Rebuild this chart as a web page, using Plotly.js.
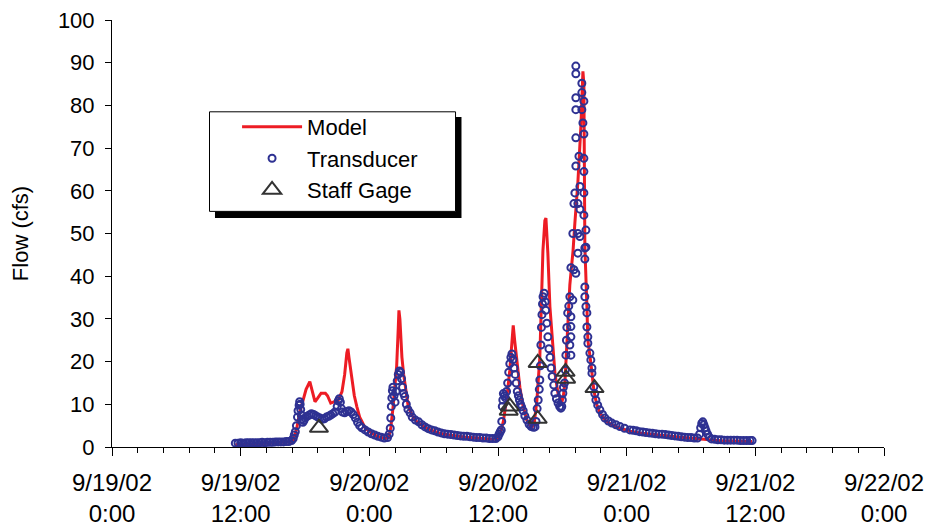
<!DOCTYPE html>
<html>
<head>
<meta charset="utf-8">
<script src="https://cdn.plot.ly/plotly-3.0.1.min.js"></script>
<style>html,body{margin:0;padding:0;background:#fff;}#chart{width:925px;height:529px;}</style>
</head>
<body>
<div id="chart"></div>
<script>
// Hours since 9/19/02 0:00
var tickHours = [0, 12, 24, 36, 48, 60, 72];
var tickLabels = ["9/19/02<br>0:00", "9/19/02<br>12:00", "9/20/02<br>0:00", "9/20/02<br>12:00",
                  "9/21/02<br>0:00", "9/21/02<br>12:00", "9/22/02<br>0:00"];

var modelHours = [11.5, 12, 13, 14, 15, 16, 16.6, 16.9, 17.2, 17.5,
  17.8, 18.1, 18.45, 18.7, 18.93, 19.2, 19.5, 19.9, 20.1, 20.4,
  20.8, 21.1, 21.45, 21.7, 21.9, 22.0, 22.1, 22.38, 22.6, 22.84,
  23.1, 23.31, 23.6, 24.0, 24.5, 25.0, 25.5, 25.8, 26.0, 26.2,
  26.4, 26.55, 26.7, 26.76, 26.85, 26.95, 27.04, 27.2, 27.4, 27.6,
  27.8, 28.0, 28.4, 28.8, 29.2, 29.6, 30.0, 30.5, 31.0, 31.5,
  32.0, 32.5, 33.0, 33.5, 34.0, 34.5, 35.0, 35.5, 35.9, 36.2,
  36.5, 36.83, 37.1, 37.3, 37.42, 37.55, 37.76, 38.04, 38.3, 38.69,
  39.0, 39.16, 39.4, 39.63, 39.9, 40.19, 40.37, 40.47, 40.55, 40.65,
  40.84, 41.1, 41.31, 41.6, 41.77, 41.96, 42.1, 42.24, 42.42, 42.52,
  42.7, 42.85, 43.0, 43.17, 43.45, 43.73, 43.92, 44.01, 44.05, 44.1,
  44.29, 44.38, 44.66, 44.94, 45.2, 45.5, 46.0, 46.6, 47.4, 48.3,
  49.2, 50.2, 51.1, 52.0, 53.0, 53.9, 54.8, 55.4, 56.0, 57.0,
  58.0, 59.0, 59.7];
var modelFlow = [0.5, 0.6, 0.7, 0.8, 0.9, 1.0, 1.2, 1.6, 4.0, 8.0,
  11.0, 13.5, 15.3, 13.0, 10.6, 11.5, 12.6, 12.6, 12.0, 10.3,
  10.6, 11.0, 13.0, 17.0, 22.0, 23.0, 21.0, 16.5, 12.0, 9.4,
  7.0, 6.0, 4.5, 3.6, 2.8, 2.3, 2.0, 2.2, 4.5, 9.0,
  14.0, 19.0, 28.0, 32.0, 30.0, 25.0, 21.0, 17.0, 13.0, 10.0,
  8.5, 7.3, 6.0, 5.2, 4.6, 4.1, 3.7, 3.3, 3.0, 2.8,
  2.6, 2.4, 2.3, 2.2, 2.1, 2.0, 1.9, 1.8, 1.9, 3.0,
  6.0, 11.7, 18.0, 25.0, 28.5, 25.0, 20.0, 14.0, 10.0, 6.3,
  5.0, 4.5, 6.0, 11.0, 21.0, 46.0, 53.0, 53.6, 50.0, 45.4,
  32.9, 24.3, 17.3, 12.5, 11.8, 10.5, 12.0, 15.0, 25.0, 30.5,
  38.0, 42.0, 46.0, 52.5, 62.0, 75.0, 88.0, 85.0, 65.0, 47.0,
  33.0, 25.0, 19.7, 13.3, 10.0, 8.0, 6.3, 5.2, 4.4, 3.7,
  3.3, 3.0, 2.8, 2.6, 2.3, 2.1, 1.9, 1.6, 1.5, 1.4,
  1.4, 1.3, 1.3];

var transHours = [11.5, 11.75, 12.0, 12.25, 12.5, 12.75, 13.0, 13.25, 13.5, 13.75,
  14.0, 14.25, 14.5, 14.75, 15.0, 15.25, 15.5, 15.75, 16.0, 16.25,
  16.5, 16.75, 16.9, 17.0, 17.1, 17.2, 17.3, 17.35, 17.45, 17.5,
  17.55, 17.6, 17.65, 17.7, 17.8, 17.9, 18.0, 18.2, 18.4, 18.6,
  18.8, 19.0, 19.2, 19.4, 19.6, 19.8, 20.0, 20.2, 20.4, 20.6,
  20.8, 21.0, 21.1, 21.2, 21.3, 21.4, 21.5, 21.7, 21.9, 22.1,
  22.3, 22.5, 22.7, 22.9, 23.1, 23.3, 23.6, 23.9, 24.2, 24.5,
  24.8, 25.1, 25.4, 25.7, 25.85, 25.95, 26.0, 26.05, 26.1, 26.15,
  26.2, 26.3, 26.4, 26.5, 26.6, 26.7, 26.8, 26.9, 27.0, 27.1,
  27.2, 27.3, 27.45, 27.6, 27.8, 28.0, 28.3, 28.6, 28.9, 29.2,
  29.5, 29.8, 30.1, 30.4, 30.7, 31.0, 31.3, 31.6, 31.9, 32.2,
  32.5, 32.8, 33.1, 33.4, 33.7, 34.0, 34.3, 34.6, 34.9, 35.2,
  35.5, 35.8, 36.0, 36.1, 36.2, 36.3, 36.35, 36.4, 36.45, 36.5,
  36.6, 36.7, 36.8, 36.9, 37.0, 37.1, 37.2, 37.3, 37.4, 37.5,
  37.6, 37.7, 37.8, 37.9, 38.0, 38.1, 38.2, 38.35, 38.5, 38.7,
  38.9, 39.1, 39.3, 39.45, 39.55, 39.65, 39.75, 39.85, 39.9, 39.95,
  40.0, 40.05, 40.1, 40.15, 40.2, 40.3, 40.4, 40.45, 40.55, 40.65,
  40.75, 40.85, 40.95, 41.05, 41.2, 41.3, 41.45, 41.6, 41.75, 41.87,
  41.95, 42.0, 42.05, 42.1, 42.2, 42.28, 42.33, 42.38, 42.42, 42.5,
  42.6, 42.7, 42.7, 42.8, 42.8, 42.8, 42.8, 42.8, 42.98, 42.98,
  43.08, 43.08, 43.17, 43.26, 43.26, 43.26, 43.26, 43.26, 43.26, 43.26,
  43.45, 43.45, 43.45, 43.55, 43.64, 43.64, 43.64, 43.82, 43.82, 43.82,
  43.92, 44.01, 44.01, 44.01, 44.01, 44.01, 44.01, 44.1, 44.1, 44.1,
  44.1, 44.2, 44.2, 44.2, 44.29, 44.29, 44.38, 44.38, 44.57, 44.66,
  44.76, 44.76, 44.94, 45.03, 45.13, 45.3, 45.5, 45.75, 45.97, 46.3,
  46.62, 47.0, 47.37, 47.8, 48.3, 48.6, 48.9, 49.2, 49.5, 49.8,
  50.1, 50.4, 50.7, 51.0, 51.3, 51.6, 51.9, 52.2, 52.5, 52.8,
  53.1, 53.4, 53.7, 54.0, 54.3, 54.6, 54.8, 54.9, 55.0, 55.1,
  55.2, 55.3, 55.4, 55.55, 55.7, 55.9, 56.2, 56.5, 56.8, 57.1,
  57.4, 57.7, 58.0, 58.3, 58.6, 58.9, 59.2, 59.5, 59.7];
var transFlow = [0.9, 0.9, 1.0, 0.9, 1.0, 1.0, 1.0, 1.0, 1.0, 1.0,
  1.1, 1.0, 1.1, 1.1, 1.1, 1.2, 1.2, 1.2, 1.2, 1.3,
  1.3, 1.5, 2.0, 2.8, 3.6, 5.0, 7.0, 8.5, 9.8, 10.6,
  10.0, 8.8, 7.5, 6.5, 5.8, 6.2, 6.8, 7.2, 7.5, 7.8,
  7.6, 7.3, 7.0, 6.8, 6.5, 6.6, 7.0, 7.2, 7.5, 7.8,
  8.2, 9.5, 10.8, 11.3, 10.5, 9.0, 8.2, 8.0, 8.3, 8.5,
  8.2, 7.6, 6.8, 5.8, 5.0, 4.5, 4.0, 3.5, 3.1, 2.8,
  2.5, 2.3, 2.1, 2.2, 3.0, 4.4, 6.8, 9.5, 11.5, 13.2,
  14.0, 12.0, 10.5, 13.0, 15.5, 17.0, 17.8, 17.5, 16.0, 14.0,
  12.5, 11.8, 10.0, 8.8, 8.0, 7.0, 6.3, 5.9, 5.2, 4.7,
  4.3, 4.0, 3.8, 3.5, 3.3, 3.1, 3.0, 2.9, 2.8, 2.7,
  2.6, 2.5, 2.5, 2.4, 2.3, 2.2, 2.2, 2.1, 2.1, 2.0,
  2.0, 2.0, 2.4, 3.0, 3.5, 4.0, 6.0, 9.5, 11.0, 12.5,
  12.0, 11.5, 13.0, 15.0, 17.5, 19.5, 21.0, 21.8, 20.5, 18.5,
  17.0, 15.0, 13.0, 12.0, 11.0, 10.0, 9.4, 8.5, 7.3, 6.3,
  5.3, 4.8, 4.6, 4.7, 6.0, 9.0, 11.0, 13.5, 15.7, 19.0,
  23.9, 28.0, 31.0, 33.5, 35.2, 36.0, 34.0, 32.0, 29.0, 25.8,
  23.0, 21.0, 18.5, 16.5, 14.5, 12.6, 11.3, 10.3, 9.5, 9.1,
  9.5, 11.0, 12.6, 14.0, 15.0, 18.0, 21.5, 25.0, 28.0, 31.4,
  33.0, 23.9, 35.2, 21.5, 25.8, 28.2, 30.5, 42.0, 34.4, 50.0,
  41.5, 57.0, 59.5, 40.7, 65.8, 72.4, 79.0, 81.8, 87.4, 89.2,
  45.4, 50.0, 57.0, 68.1, 49.3, 55.7, 61.0, 85.2, 83.0, 79.0,
  75.9, 81.0, 73.3, 67.6, 64.5, 59.5, 54.3, 46.6, 44.0, 37.5,
  35.2, 50.8, 46.8, 32.9, 31.4, 28.1, 25.8, 24.3, 22.0, 20.4,
  18.5, 17.3, 14.1, 12.5, 11.0, 9.8, 8.7, 7.6, 6.8, 6.1,
  5.6, 5.2, 4.8, 4.4, 4.0, 3.9, 3.8, 3.6, 3.5, 3.4,
  3.3, 3.2, 3.1, 3.0, 3.0, 2.9, 2.8, 2.7, 2.6, 2.5,
  2.4, 2.3, 2.2, 2.2, 2.1, 2.1, 3.0, 4.5, 5.5, 5.9,
  5.2, 4.5, 3.8, 3.0, 2.3, 1.9, 1.8, 1.7, 1.7, 1.6,
  1.6, 1.6, 1.6, 1.6, 1.5, 1.5, 1.5, 1.5, 1.5];

var staffHours = [19.3, 37.0, 37.1, 39.7, 39.7, 42.3, 42.35, 45.0];
var staffFlow = [4.5, 8.5, 9.5, 19.7, 6.6, 17.6, 16.0, 13.8];

var FONT = '"Liberation Sans", Arial, sans-serif';

var traces = [
  {x: modelHours, y: modelFlow, name: 'Model', type: 'scatter', mode: 'lines',
   line: {color: '#ed1c24', width: 3}},
  {x: transHours, y: transFlow, name: 'Transducer', type: 'scatter', mode: 'markers',
   marker: {symbol: 'circle-open', size: 7, color: '#2e3192', line: {width: 2, color: '#2e3192'}}},
  {x: staffHours, y: staffFlow, name: 'Staff Gage', type: 'scatter', mode: 'markers',
   marker: {symbol: 'triangle-up-open', size: 16, color: '#333333', line: {width: 2, color: '#333333'}}}
];

var layout = {
  width: 925, height: 529,
  margin: {l: 112, r: 41, t: 20, b: 82},
  paper_bgcolor: '#ffffff', plot_bgcolor: '#ffffff',
  font: {family: FONT, color: '#000000'},
  showlegend: true,
  legend: {x: 0.162, y: 0.799, xanchor: 'left', yanchor: 'top',
           bgcolor: 'rgba(0,0,0,0)', borderwidth: 0, itemwidth: 60,
           font: {family: FONT, size: 22, color: '#000'}},
  xaxis: {range: [0, 72], tickmode: 'array', tickvals: tickHours, ticktext: tickLabels,
          ticks: 'outside', ticklen: 8, tickcolor: '#000', tickwidth: 1,
          showline: true, linecolor: '#000', linewidth: 1, zeroline: false, showgrid: false,
          tickfont: {family: FONT, size: 24, color: '#000'}, ticklabelstandoff: 6,
          ticklabeloverflow: 'allow',
          minor: {dtick: 2.4, tick0: 0, ticks: 'outside', ticklen: 5, tickcolor: '#000', showgrid: false},
          fixedrange: true},
  yaxis: {range: [0, 100], dtick: 10, tick0: 0, ticks: 'outside', ticklen: 6, tickcolor: '#000',
          showline: true, linecolor: '#000', linewidth: 1, zeroline: false, showgrid: false,
          tickfont: {family: FONT, size: 22, color: '#000'}, ticklabelstandoff: 6,
          title: {text: 'Flow (cfs)', font: {family: FONT, size: 22, color: '#000'}, standoff: 23},
          fixedrange: true},
  shapes: [
    {type: 'rect', xref: 'paper', yref: 'paper', x0: 0.1334, x1: 0.4527, y0: 0.5363, y1: 0.7728,
     fillcolor: '#000', line: {width: 0}, layer: 'above'},
    {type: 'rect', xref: 'paper', yref: 'paper', x0: 0.1263, x1: 0.4450, y0: 0.5518, y1: 0.7850,
     fillcolor: '#fff', line: {width: 1, color: '#000'}, layer: 'above'}
  ]
};

Plotly.newPlot('chart', traces, layout, {displayModeBar: false, staticPlot: true});
</script>
</body>
</html>
